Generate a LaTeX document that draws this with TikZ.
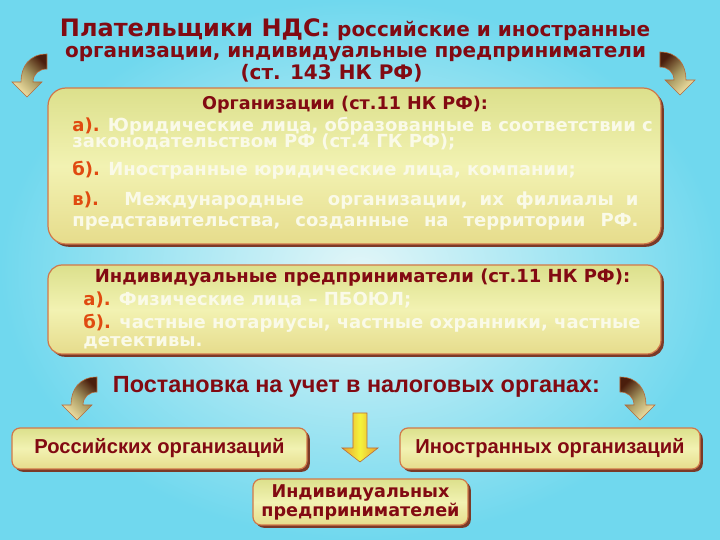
\documentclass[tikz,border=0pt]{standalone}
\usepackage{fontspec}
\setmainfont{DejaVu Sans}
\newfontfamily\arialfont{Liberation Sans}
\usepackage{xcolor}
\definecolor{bgcyan}{HTML}{70D8EE}
\definecolor{bglight}{HTML}{E2F6F8}
\definecolor{boxtop}{HTML}{DCE08C}
\definecolor{boxmid}{HTML}{F2F2B2}
\definecolor{boxbot}{HTML}{E6DC8C}
\definecolor{boxedge}{HTML}{D0784A}
\definecolor{shadowbrown}{HTML}{7A3A28}
\definecolor{headred}{HTML}{820A12}
\definecolor{lblred}{HTML}{E04A10}
\definecolor{bodywhite}{HTML}{FAFAE8}
\definecolor{arrowdark}{HTML}{4A1E0C}
\definecolor{arrowmid}{HTML}{A89A62}
\definecolor{arrowlight}{HTML}{F4E4A6}
\definecolor{arrowedge}{HTML}{B86A3A}
\definecolor{arrowyellow}{HTML}{F4F43C}
\definecolor{arroworange}{HTML}{E8A030}
\usepackage{tikz}
\usetikzlibrary{shadows}

\newcommand{\lbl}[1]{\textcolor{lblred}{#1}}
\newcommand{\tightlines}{\lineskiplimit=-10pt\relax}
\newcommand{\bendarrow}[4]{%
	\shade[shift={(#1,#2)}, xscale=#3, top color=arrowdark, bottom color=arrowlight, middle color=arrowmid, shading angle=#4, draw=arrowedge, line width=0.3pt]
	(20,-43) .. controls (2,-43) and (-6,-30) .. (-6,-15) -- (-15,-15) -- (0,0) -- (15,-15) -- (6,-15)
	.. controls (6,-23) and (12,-28) .. (20,-28) -- cycle;}

\begin{document}
\begin{tikzpicture}[x=0.5pt, y=-0.5pt,
	bigbox/.style={rounded corners=9pt, draw=boxedge, line width=0.6pt, inner sep=0pt,
		top color=boxtop, bottom color=boxbot, middle color=boxmid,
		drop shadow={shadow xshift=1.4pt, shadow yshift=-1.4pt, fill=shadowbrown, opacity=1}},
	smallbox/.style={bigbox, rounded corners=4pt, text=headred, align=center},
	titletxt/.style={text=headred, font=\bfseries\fontsize{10}{12}\selectfont, inner sep=0pt},
	headtxt/.style={text=headred, font=\bfseries\fontsize{8.8}{10}\selectfont, inner sep=0pt},
	bodytxt/.style={text=bodywhite, font=\bfseries\fontsize{9}{8}\selectfont\tightlines, inner sep=0pt, align=left}]
	\useasboundingbox (0,0) rectangle (720,540);
	\shade[inner color=bglight, outer color=bgcyan] (0,0) rectangle (720,540);
	
	% title
	\node[titletxt, anchor=base] (title1) at (355,37) {{\fontsize{12}{14}\selectfont Плательщики НДС:} российские и иностранные};
	\node[titletxt, anchor=base] (title2) at (355.5,58) {организации, индивидуальные предприниматели};
	\node[titletxt, anchor=base] (title3) at (331.5,80) {(ст. 143 НК РФ)};
	
	% organisations
	\node[bigbox, minimum width=306.5pt, minimum height=78pt] (orgbox) at (354.5,166) {};
	\node[headtxt, anchor=base] (orghead) at (345,110) {Организации (ст.11 НК РФ):};
	\node[bodytxt, anchor=base west] (orga) at (72,148) {\lbl{а).} Юридические лица, образованные в соответствии с\\законодательством РФ (ст.4 ГК РФ);};
	\node[bodytxt, anchor=base west] (orgb) at (72,176) {\lbl{б).} Иностранные юридические лица, компании;};
	\node[bodytxt, anchor=base west] (orgc) at (72,227) {\makebox[283pt][s]{\lbl{в).} Международные\ \ организации,\ их\ филиалы\ и}\\[2.5pt]
		\makebox[283pt][s]{представительства,\ созданные\ на\ территории\ РФ.}};
	
	% individual entrepreneurs
	\node[bigbox, rounded corners=7pt, minimum width=306.5pt, minimum height=44.5pt] (ipbox) at (354.5,309.5) {};
	\node[headtxt, font=\bfseries\fontsize{9}{10}\selectfont, anchor=base] (iphead) at (362.5,283) {Индивидуальные предприниматели (ст.11 НК РФ):};
	\node[bodytxt, anchor=base west] (ipa) at (83,306) {\lbl{а).} Физические лица – ПБОЮЛ;};
	\node[bodytxt, anchor=base west] (ipb) at (83,347) {\lbl{б).} частные нотариусы, частные охранники, частные\\[1pt]детективы.};
	
	% registration
	\node[text=headred, font=\arialfont\bfseries\fontsize{11.7}{13}\selectfont, inner sep=0pt, anchor=base] (reg) at (356.5,393) {Постановка на учет в налоговых органах:};
	\node[smallbox, minimum width=147.5pt, minimum height=20.5pt, font=\arialfont\bfseries\fontsize{10.1}{11}\selectfont] (rusorg) at (159.5,448.5) {Российских организаций};
	\node[smallbox, minimum width=150pt, minimum height=20.5pt, font=\arialfont\bfseries\fontsize{10.1}{11}\selectfont] (forgorg) at (550,448.5) {Иностранных организаций};
	\node[smallbox, minimum width=107.5pt, minimum height=23pt, font=\bfseries\fontsize{8.8}{9.5}\selectfont] (iporg) at (360.5,502) {Индивидуальных\\предпринимателей};
	
	% arrows
	\foreach \px/\py/\sx/\ang in {27/97/1/-45, 680/95/-1/45, 77/420/1/-45, 640/420/-1/45} {
		\bendarrow{\px}{\py}{\sx}{\ang}
	}
	\shade[left color=arroworange, right color=arroworange, middle color=arrowyellow, draw=arrowedge, line width=0.3pt]
	(353,413) -- (367,413) -- (367,448) -- (378,448) -- (360,462) -- (342,448) -- (353,448) -- cycle;
\end{tikzpicture}
\end{document}
